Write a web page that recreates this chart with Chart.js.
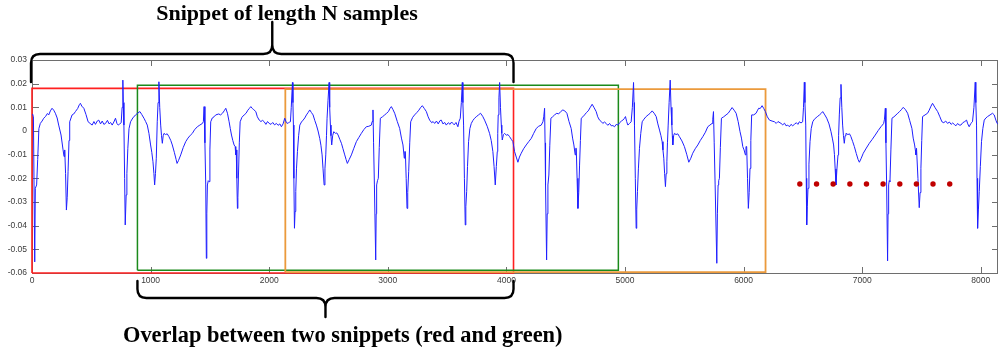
<!DOCTYPE html>
<html>
<head>
<meta charset="utf-8">
<script src="https://cdn.jsdelivr.net/npm/chart.js@4.4.1/dist/chart.umd.min.js"></script>
<style>
  html, body { margin: 0; padding: 0; background: #fff; }
  #wrap { width: 998px; height: 354px; overflow: hidden; }
</style>
</head>
<body>
<div id="wrap"><canvas id="ecgChart" width="998" height="354"></canvas></div>
<script>
// ECG trace as [sample, value] pairs, one array per stretch
const ecgPart1 = [
  [5,0.0072],[12,0.006],[23,-0.0553],[28,-0.0242],[39,-0.0228],[48,-0.012],[58,0.001],[70,0.0032],[85,0.0042],
  [99,0.0054],[115,0.0062],[130,0.0074],[141,0.0068],[155,0.0085],[169,0.0096],[183,0.0088],[197,0.0075],
  [212,0.0055],[225,0.0025],[245,-0.0017],[262,-0.008],[270,-0.0108],[276,-0.008],[283,-0.018],[290,-0.0334],
  [297,-0.028],[304,-0.0172],[312,-0.004],[318,0.0039],[338,0.0068],[352,0.0072],[366,0.0082],[385,0.0095],
  [400,0.0112],[408,0.0117],[420,0.0105],[437,0.0096],[455,0.007],[473,0.0039],[490,0.0032],[507,0.0025],
  [522,0.004],[535,0.0028],[550,0.0042],[563,0.0046],[578,0.003],[592,0.0042],[606,0.0028],[620,0.0032],
  [636,0.0045],[650,0.003],[663,0.0036],[676,0.0025],[690,0.0038],[704,0.0054],[716,0.0032],[727,0.0025],
  [740,0.003],[752,0.0035],[760,0.01],[766,0.0215],[770,0.012],[775,0.0025],[781,-0.02],[786,-0.0397],
  [794,-0.027],[800,-0.018],[808,-0.0073],[818,0.001],[831,0.0039],[850,0.0055],[873,0.0068],[890,0.0075],
  [910,0.0082],[925,0.007],[944,0.0054],[958,0.004],[972,0.0025],[986,-0.001],[1000,-0.0059],[1010,-0.009],
  [1020,-0.013],[1028,-0.018],[1034,-0.0228],[1041,-0.018],[1048,-0.0115],[1056,0.0039],[1063,0.012],
  [1070,0.0208],[1077,0.01],[1085,0.0025],[1092,-0.002],[1099,-0.0052],[1106,-0.002],[1113,-0.001],
  [1125,-0.0015],[1140,-0.0012],[1155,-0.0024],[1170,-0.004],[1183,-0.0059],[1200,-0.009],[1215,-0.012],
  [1223,-0.0137],[1235,-0.0125],[1254,-0.0101],[1275,-0.007],[1296,-0.0045],[1315,-0.003],[1335,-0.0018],
  [1352,-0.001],[1370,0.0005],[1394,0.0018],[1415,0.0025],[1437,0.0032],[1445,0.004],[1451,0.0103],
  [1458,-0.005],[1465,-0.0228],[1470,-0.0538],[1474,-0.035],[1479,-0.0228],[1486,-0.021],[1493,-0.0214],
  [1500,-0.008],[1507,0.0039],[1520,0.0055],[1535,0.006],[1549,0.0068],[1575,0.0072],[1590,0.0068],
  [1606,0.0075],[1620,0.0085],[1634,0.0096],[1648,0.0075],[1662,0.0039],[1672,0.001],[1682,-0.0017],
  [1693,-0.004],[1704,-0.0059],[1713,-0.0066],[1718,-0.0101],[1722,-0.008],[1727,-0.02],[1732,-0.0327],
  [1736,-0.028],[1741,-0.0186],[1748,-0.005],[1755,0.0039],[1770,0.0058],[1789,0.0068],[1805,0.0075],
  [1820,0.0088],[1832,0.0095],[1845,0.0103],[1858,0.0095],[1870,0.009],[1887,0.0082],[1900,0.006],
  [1916,0.0046],[1930,0.004],[1944,0.0045],[1958,0.0039],[1972,0.0028],[1986,0.004],[2000,0.0032],
  [2015,0.0028],[2030,0.0036],[2045,0.0026],[2061,0.0032]
];
const ecgPart2 = [
  [2075,0.0024],[2090,0.003],[2103,0.0018],[2117,0.003],[2131,0.0054],[2145,0.0035],[2159,0.0032],
  [2170,0.0038],[2179,0.0039],[2186,0.01],[2196,0.0205],[2200,0.012],[2204,0.0025],[2208,-0.02],
  [2213,-0.0411],[2218,-0.034],[2224,-0.0256],[2230,-0.016],[2238,-0.0087],[2248,-0.002],[2258,0.0025],
  [2272,0.0038],[2286,0.0046],[2300,0.0055],[2314,0.0068],[2328,0.0078],[2342,0.0089],[2356,0.0078],
  [2370,0.0068],[2384,0.0045],[2398,0.0025],[2412,0.0],[2426,-0.0031],[2436,-0.006],[2446,-0.0101],
  [2454,-0.016],[2463,-0.0228],[2470,-0.016],[2477,-0.0101],[2483,-0.002],[2488,0.0054],[2496,0.013],
  [2505,0.0205],[2510,0.01],[2516,0.0025],[2521,-0.002],[2527,-0.0059],[2535,-0.002],[2544,-0.0003],
  [2560,-0.001],[2570,-0.0008],[2581,-0.0017],[2595,-0.0035],[2609,-0.0052],[2622,-0.0075],[2637,-0.0101],
  [2648,-0.012],[2659,-0.0137],[2675,-0.012],[2693,-0.0101],[2712,-0.0075],[2735,-0.0045],[2755,-0.0028],
  [2777,-0.001],[2798,0.0006],[2819,0.0018],[2840,0.002],[2861,0.0025],[2868,0.004],[2875,0.0089],
  [2880,-0.005],[2887,-0.0228],[2898,-0.0545],[2902,-0.035],[2906,-0.0228],[2913,-0.021],[2920,-0.02],
  [2928,-0.007],[2937,0.0054],[2955,0.006],[2974,0.0068],[2990,0.0075],[3005,0.0082],[3018,0.0095],
  [3030,0.0103],[3044,0.009],[3058,0.0075],[3080,0.004],[3100,0.0011],[3115,-0.003],[3128,-0.0059],
  [3139,-0.0115],[3143,-0.0087],[3148,-0.0087],[3155,-0.02],[3162,-0.0327],[3168,-0.026],[3176,-0.0172],
  [3185,-0.005],[3193,0.0039],[3210,0.0058],[3226,0.0068],[3245,0.0078],[3262,0.0088],[3275,0.0098],
  [3291,0.0107],[3308,0.0095],[3325,0.0082],[3340,0.006],[3353,0.0046],[3370,0.0035],[3382,0.004],
  [3395,0.0032],[3410,0.0042],[3425,0.003],[3440,0.0044],[3451,0.0046],[3465,0.003],[3480,0.0036],
  [3493,0.0025],[3510,0.0035],[3525,0.0028],[3538,0.0038],[3549,0.0032],[3560,0.0026],[3575,0.0036],
  [3591,0.0018],[3600,0.004],[3611,0.0054],[3620,0.012],[3628,0.0205],[3633,0.012],[3639,0.0025],
  [3646,-0.02],[3653,-0.0397],[3658,-0.032],[3665,-0.0256],[3672,-0.015],[3681,-0.0045],[3692,0.001],
  [3704,0.0032],[3718,0.0045],[3732,0.0054],[3750,0.0062],[3765,0.0068],[3782,0.0075],[3800,0.0062],
  [3816,0.0046],[3838,0.002],[3858,-0.001],[3872,-0.004],[3886,-0.0087],[3896,-0.015],[3906,-0.0228],
  [3915,-0.015],[3923,-0.0087],[3927,-0.001],[3931,0.0068],[3937,0.014],[3943,0.0205],[3950,0.01],
  [3957,0.0025],[3961,-0.001],[3965,-0.0038],[3975,-0.0015],[3985,-0.001],[4000,-0.0018],[4013,-0.0015],
  [4027,-0.0024],[4041,-0.0035],[4055,-0.0045],[4069,-0.0087],[4083,-0.011],[4097,-0.0132]
];
const ecgPart3 = [
  [4110,-0.011],[4125,-0.0094],[4145,-0.0075],[4167,-0.0059],[4188,-0.0045],[4210,-0.0031],[4230,-0.001],
  [4252,0.0011],[4272,0.002],[4294,0.0025],[4308,0.0039],[4315,0.006],[4322,0.0096],[4326,-0.005],
  [4330,-0.0228],[4339,-0.0545],[4344,-0.035],[4350,-0.0228],[4358,-0.0186],[4366,-0.006],[4375,0.0054],
  [4390,0.006],[4406,0.0068],[4425,0.0075],[4440,0.0072],[4458,0.0082],[4476,0.0089],[4492,0.0085],
  [4510,0.0075],[4528,0.004],[4546,0.0011],[4558,-0.003],[4569,-0.0059],[4580,-0.0101],[4585,-0.0073],
  [4589,-0.0073],[4596,-0.02],[4603,-0.0327],[4610,-0.026],[4617,-0.0144],[4624,-0.004],[4631,0.0054],
  [4645,0.006],[4659,0.0068],[4675,0.0078],[4690,0.0085],[4705,0.0098],[4723,0.0113],[4740,0.0098],
  [4757,0.0082],[4770,0.006],[4785,0.0046],[4800,0.004],[4813,0.0032],[4827,0.0038],[4841,0.0032],
  [4855,0.0024],[4870,0.0032],[4884,0.0022],[4898,0.0023],[4912,0.0018],[4926,0.0028],[4940,0.0025],
  [4955,0.0035],[4970,0.0042],[4982,0.0046],[4993,0.0052],[5004,0.0061],[5014,0.004],[5024,0.0025],
  [5038,0.0032],[5052,0.0039],[5062,0.01],[5072,0.0205],[5076,0.012],[5080,0.0025],[5087,-0.02],
  [5094,-0.0411],[5099,-0.033],[5105,-0.0256],[5113,-0.016],[5122,-0.0073],[5133,-0.001],[5145,0.0039],
  [5160,0.005],[5178,0.0061],[5195,0.0068],[5212,0.0075],[5229,0.0085],[5246,0.0075],[5263,0.0061],
  [5277,0.003],[5291,0.0004],[5303,-0.002],[5313,-0.0045],[5320,-0.008],[5327,-0.0115],[5334,-0.018],
  [5341,-0.0235],[5347,-0.018],[5353,-0.013],[5358,-0.005],[5364,0.0025],[5372,0.012],[5381,0.0215],
  [5388,0.01],[5395,0.0025],[5399,-0.002],[5403,-0.0059],[5410,-0.002],[5417,-0.001],[5430,-0.0015],
  [5445,-0.0012],[5459,-0.0024],[5480,-0.0042],[5501,-0.0066],[5520,-0.0098],[5538,-0.0132],[5555,-0.0115],
  [5571,-0.0094],[5592,-0.0075],[5614,-0.0059],[5635,-0.004],[5656,-0.0024],[5678,-0.0005],[5698,0.0018],
  [5716,0.0025],[5734,0.0032],[5740,0.005],[5746,0.0082],[5752,-0.005],[5760,-0.0228],[5774,-0.0559],
  [5779,-0.035],[5785,-0.0228],[5790,-0.021],[5796,-0.02],[5804,-0.007],[5813,0.0054],[5832,0.006],
  [5852,0.0068],[5870,0.0075],[5888,0.0088],[5903,0.0099],[5920,0.0088],[5937,0.0075],[5954,0.004],
  [5970,-0.0003],[5982,-0.003],[5993,-0.0066],[6004,-0.008],[6015,-0.0101],[6020,-0.0066],[6026,-0.0066],
  [6033,-0.02],[6040,-0.0327],[6047,-0.026],[6054,-0.0158],[6061,-0.004],[6068,0.0068],[6085,0.0068],
  [6105,0.0075],[6115,0.0085],[6127,0.0096],[6140,0.0095],[6156,0.0107]
];
const ecgPart4 = [
  [6170,0.0095],[6184,0.0082],[6200,0.006],[6218,0.0046],[6240,0.0042],[6260,0.0039],[6275,0.0032],
  [6290,0.004],[6316,0.0032],[6330,0.0026],[6345,0.0033],[6358,0.0022],[6372,0.0025],[6386,0.0018],
  [6400,0.0028],[6414,0.0022],[6428,0.0028],[6445,0.0035],[6458,0.0028],[6470,0.0039],[6484,0.0034],
  [6498,0.0039],[6505,0.01],[6512,0.0206],[6517,0.012],[6524,0.0025],[6528,-0.02],[6532,-0.0397],
  [6537,-0.032],[6543,-0.0242],[6551,-0.014],[6560,-0.0045],[6570,0.001],[6583,0.0039],[6597,0.005],
  [6611,0.0056],[6625,0.0062],[6640,0.0068],[6655,0.0075],[6667,0.0082],[6685,0.0068],[6701,0.0054],
  [6720,0.003],[6737,-0.0003],[6748,-0.003],[6759,-0.0059],[6766,-0.01],[6772,-0.016],[6779,-0.0228],
  [6787,-0.016],[6796,-0.0101],[6801,-0.002],[6807,0.0068],[6814,0.014],[6821,0.0197],[6828,0.01],
  [6835,0.0025],[6842,-0.002],[6849,-0.0052],[6856,-0.002],[6863,-0.001],[6880,-0.0015],[6893,-0.0012],
  [6905,-0.0024],[6920,-0.0045],[6934,-0.0066],[6950,-0.0095],[6965,-0.012],[6976,-0.0132],[6992,-0.0115],
  [7009,-0.0094],[7035,-0.0072],[7060,-0.0052],[7085,-0.0035],[7110,-0.0017],[7135,0.0002],[7158,0.0018],
  [7170,0.0025],[7181,0.0032],[7188,0.005],[7195,0.0096],[7200,-0.005],[7206,-0.0228],[7214,-0.0549],
  [7218,-0.035],[7223,-0.0228],[7228,-0.021],[7234,-0.0214],[7242,-0.008],[7251,0.0054],[7268,0.006],
  [7285,0.0068],[7300,0.0075],[7315,0.0082],[7330,0.009],[7346,0.01],[7365,0.009],[7383,0.0075],
  [7400,0.0045],[7419,0.0011],[7430,-0.003],[7442,-0.0059],[7448,-0.008],[7453,-0.0101],[7458,-0.0073],
  [7461,-0.0073],[7470,-0.02],[7481,-0.0324],[7488,-0.026],[7495,-0.0158],[7502,-0.004],[7509,0.0061],
  [7530,0.0068],[7551,0.0075],[7565,0.0088],[7580,0.0105],[7593,0.0117],[7615,0.0098],[7636,0.0082],
  [7655,0.006],[7672,0.0039],[7688,0.0035],[7704,0.0042],[7720,0.0032],[7735,0.0038],[7750,0.0028],
  [7763,0.0034],[7776,0.0028],[7790,0.0022],[7805,0.0032],[7818,0.0025],[7832,0.0025],[7848,0.0035],
  [7865,0.004],[7880,0.0046],[7890,0.003],[7902,0.0018],[7916,0.0032],[7930,0.0039],[7942,0.01],
  [7953,0.0206],[7958,0.012],[7964,0.0025],[7968,-0.02],[7973,-0.0411],[7980,-0.033],[7987,-0.0256],
  [7996,-0.015],[8006,-0.0045],[8017,0.001],[8029,0.0046],[8043,0.0055],[8057,0.0061],[8078,0.0068],
  [8099,0.0075],[8113,0.0068],[8127,0.0046],[8138,0.0032],[8150,0.0028]
];

// snippet windows: [firstSample, lastSample, low, high]
const redBox = [0, 4060, -0.06, 0.018];
const greenBox = [889, 4944, -0.0588, 0.0193];
const orangeBox = [2136, 6185, -0.0596, 0.0177];

// "more snippets" dots
const dotSamples = [6474, 6615, 6755, 6896, 7036, 7176, 7317, 7457, 7597, 7738];
const dotLevel = -0.0224;

const xRange = [0, 8145];
const yRange = [-0.06, 0.03];
const xTicks = [0, 1000, 2000, 3000, 4000, 5000, 6000, 7000, 8000];
const yTicks = [-0.06, -0.05, -0.04, -0.03, -0.02, -0.01, 0, 0.01, 0.02, 0.03];

const topNote = "Snippet of length N samples";
const bottomNote = "Overlap between two snippets (red and green)";

/* ---------------- helpers ---------------- */
const toXY = pairs => pairs.map(p => ({ x: p[0], y: p[1] }));

function boxPath(b) {
  return [
    { x: b[0], y: b[2] }, { x: b[1], y: b[2] },
    { x: b[1], y: b[3] }, { x: b[0], y: b[3] },
    { x: b[0], y: b[2] }
  ];
}

function boxSet(b, color, width) {
  return {
    data: boxPath(b),
    showLine: true,
    borderColor: color,
    borderWidth: width,
    pointRadius: 0,
    tension: 0,
    clip: false,
    order: 2
  };
}

// curly brace: legs end at yEnd, bar at yBar, tip reaches yTip
function drawBrace(ctx, x1, x2, yEnd, yBar, yTip, r) {
  const dir = yTip < yBar ? -1 : 1;
  const xm = (x1 + x2) / 2;
  ctx.beginPath();
  ctx.moveTo(x1, yEnd);
  ctx.lineTo(x1, yBar - dir * r);
  ctx.quadraticCurveTo(x1, yBar, x1 + r, yBar);
  ctx.lineTo(xm - r, yBar);
  ctx.quadraticCurveTo(xm, yBar, xm, yBar + dir * r);
  ctx.lineTo(xm, yTip);
  ctx.moveTo(xm, yBar + dir * r);
  ctx.quadraticCurveTo(xm, yBar, xm + r, yBar);
  ctx.lineTo(x2 - r, yBar);
  ctx.quadraticCurveTo(x2, yBar, x2, yBar - dir * r);
  ctx.lineTo(x2, yEnd);
  ctx.stroke();
}

/* ---------------- plugins ---------------- */
const framePlugin = {
  id: "frame",
  beforeDatasetsDraw(chart) {
    const { ctx, chartArea: a, scales } = chart;
    ctx.save();
    ctx.strokeStyle = "#6e6e6e";
    ctx.lineWidth = 1;
    ctx.strokeRect(a.left + 0.5, a.top + 0.5, a.right - a.left - 1, a.bottom - a.top);
    ctx.beginPath();
    xTicks.forEach(v => {
      const px = Math.round(scales.x.getPixelForValue(v)) + 0.5;
      ctx.moveTo(px, a.bottom); ctx.lineTo(px, a.bottom - 6);
      ctx.moveTo(px, a.top); ctx.lineTo(px, a.top + 6);
    });
    yTicks.forEach(v => {
      const py = Math.round(scales.y.getPixelForValue(v)) + 0.5;
      ctx.moveTo(a.left, py); ctx.lineTo(a.left + 7, py);
      ctx.moveTo(a.right, py); ctx.lineTo(a.right - 6, py);
    });
    ctx.stroke();
    ctx.restore();
  }
};

const notesPlugin = {
  id: "notes",
  afterDraw(chart) {
    const { ctx, chartArea: a, scales } = chart;
    const xs = scales.x;
    ctx.save();
    ctx.strokeStyle = "#000";
    ctx.lineWidth = 2.4;
    ctx.lineCap = "round";
    ctx.lineJoin = "round";

    const tL = xs.getPixelForValue(redBox[0]) - 1;
    const tR = xs.getPixelForValue(redBox[1]);
    drawBrace(ctx, tL, tR, a.top + 22, a.top - 6, a.top - 38, 9);

    const bL = xs.getPixelForValue(greenBox[0]);
    const bR = xs.getPixelForValue(redBox[1]);
    drawBrace(ctx, bL, bR, a.bottom + 8, a.bottom + 25, a.bottom + 44, 9);

    ctx.fillStyle = "#000";
    ctx.textBaseline = "alphabetic";
    ctx.font = "bold 22px 'Liberation Serif', 'Times New Roman', serif";
    ctx.textAlign = "center";
    ctx.fillText(topNote, 287, 20);
    ctx.font = "bold 22.4px 'Liberation Serif', 'Times New Roman', serif";
    ctx.textAlign = "left";
    ctx.fillText(bottomNote, 123, 342);
    ctx.restore();
  }
};

/* ---------------- chart ---------------- */
const tickFont = { family: "'Liberation Sans', Arial, sans-serif", size: 8.5 };

new Chart(document.getElementById("ecgChart"), {
  type: "scatter",
  data: {
    datasets: [
      {
        data: toXY([].concat(ecgPart1, ecgPart2, ecgPart3, ecgPart4)),
        showLine: true,
        borderColor: "#1f1fff",
        borderWidth: 1,
        pointRadius: 0,
        pointHoverRadius: 0,
        tension: 0,
        order: 1
      },
      boxSet(orangeBox, "#eb9a3c", 1.8),
      boxSet(greenBox, "#1b8a1b", 1.5),
      boxSet(redBox, "#ff2020", 1.6),
      {
        data: dotSamples.map(s => ({ x: s, y: dotLevel })),
        showLine: false,
        pointRadius: 2.7,
        pointBackgroundColor: "#c00000",
        pointBorderWidth: 0,
        order: 0
      }
    ]
  },
  options: {
    responsive: false,
    animation: false,
    layout: { autoPadding: false, padding: { top: 60, right: 0, bottom: 0, left: 0 } },
    plugins: { legend: { display: false }, tooltip: { enabled: false } },
    scales: {
      x: {
        type: "linear",
        min: xRange[0],
        max: xRange[1],
        grid: { display: false, drawTicks: false },
        border: { display: false },
        ticks: {
          autoSkip: false,
          font: tickFont,
          color: "#3a3a3a",
          padding: 3,
          maxRotation: 0,
          callback: v => String(v)
        },
        afterBuildTicks: s => { s.ticks = xTicks.map(v => ({ value: v })); },
        afterFit: s => { s.height = 81; s.paddingLeft = 0; s.paddingRight = 0; }
      },
      y: {
        min: yRange[0],
        max: yRange[1],
        grid: { display: false, drawTicks: false },
        border: { display: false },
        ticks: {
          autoSkip: false,
          font: tickFont,
          color: "#3a3a3a",
          padding: 5,
          callback: v => (v === 0 ? "0" : String(v))
        },
        afterBuildTicks: s => { s.ticks = yTicks.map(v => ({ value: v })); },
        afterFit: s => { s.width = 32; }
      }
    }
  },
  plugins: [framePlugin, notesPlugin]
});
</script>
</body>
</html>
